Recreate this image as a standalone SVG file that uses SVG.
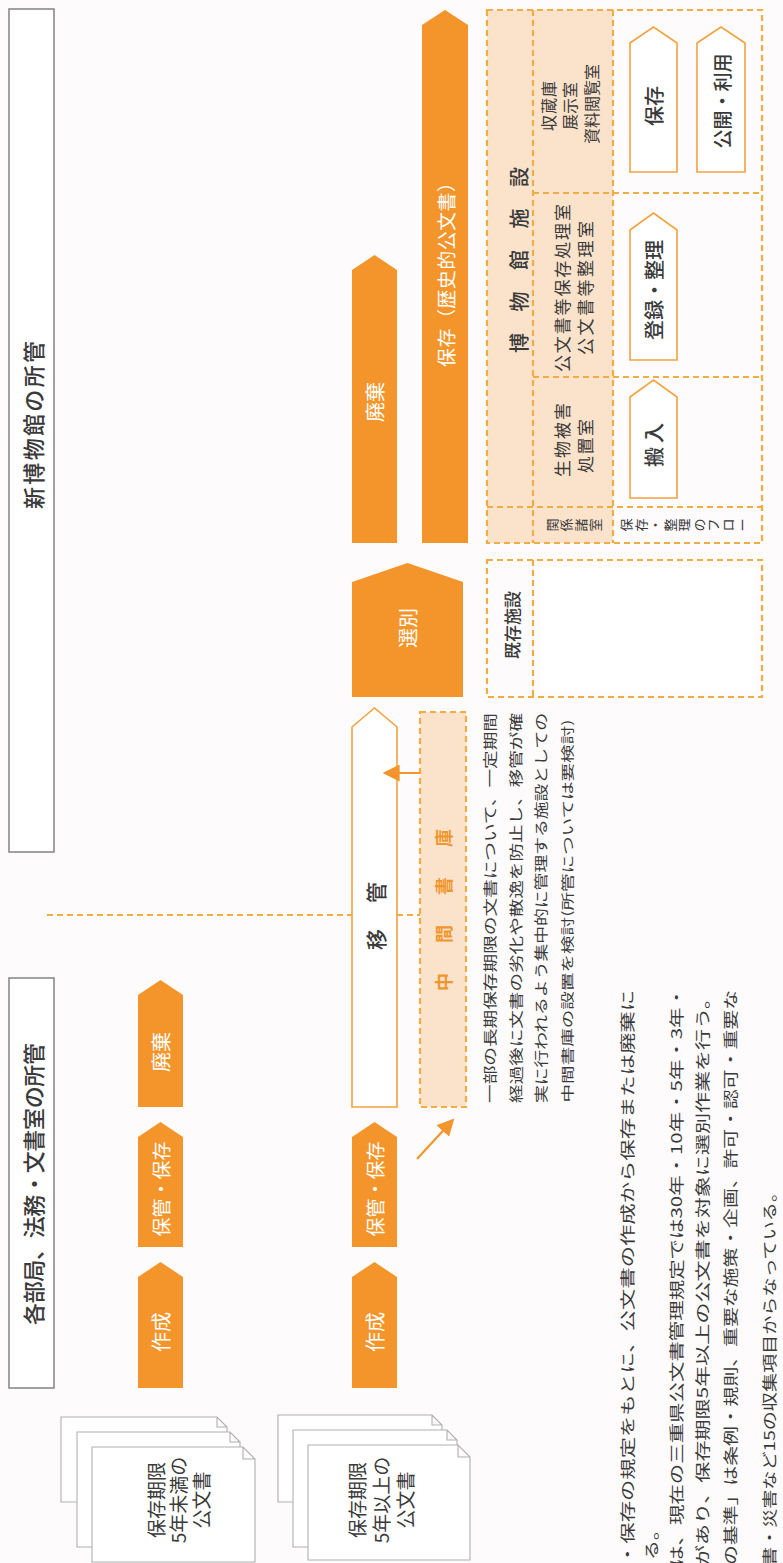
<svg xmlns="http://www.w3.org/2000/svg" width="783" height="1563" viewBox="0 0 783 1563">
<defs>
<style>
.t{font-family:"Noto Sans CJK JP","Noto Sans",sans-serif;text-anchor:middle;dominant-baseline:central}
.e{text-anchor:end}
.d{fill:#3a3a3a}
.w{fill:#ffffff}
.o{fill:#f3952a}
.og{fill:#f0962e}
.box{fill:#ffffff;stroke:#8a8a8a;stroke-width:1.6}
.dash{fill:none;stroke:#f1ac45;stroke-width:2.2;stroke-dasharray:6 4}
.peach{fill:#fbe3cb}
.wa{fill:#ffffff;stroke:#f3a240;stroke-width:1.6}
.page{fill:#ffffff;stroke:#b0b0b0;stroke-width:1.1}
.con{fill:none;stroke:#f3952a;stroke-width:2.2}
</style>
<marker id="ah" viewBox="0 0 10 10" refX="8" refY="5" markerUnits="userSpaceOnUse" markerWidth="17" markerHeight="17" orient="auto">
<path d="M0,0 L10,5 L0,10 Z" fill="#f3952a"/>
</marker>
</defs>
<rect x="0" y="0" width="783" height="1563" fill="#fdfbfb"/>

<g id="header-new-museum">
<rect class="box" x="9" y="9" width="45" height="843"/>
<text class="t d" font-size="22" font-weight="500" transform="translate(32,425) rotate(-90)" textLength="168">新博物館の所管</text>
</g>
<g id="header-departments">
<rect class="box" x="9" y="978" width="45" height="410"/>
<text class="t d" font-size="22" font-weight="500" transform="translate(32,1184) rotate(-90)" textLength="282">各部局、法務・文書室の所管</text>
</g>

<g id="divider">
<line class="dash" x1="47" y1="915" x2="420" y2="915"/>
</g>

<g id="doc-stack-under5">
<path class="page" d="M61,1417 H217 L227,1427 V1502 H61 Z M217,1417 V1427 H227"/>
<path class="page" d="M77,1432 H230 L240,1442 V1547 H77 Z M230,1432 V1442 H240"/>
<path class="page" d="M92,1447 H243 L255,1459 V1562 H92 Z M243,1447 V1459 H255"/>
<text class="t d" font-size="19" transform="translate(155,1500) rotate(-90)">保存期限</text>
<text class="t d" font-size="19" transform="translate(177,1500) rotate(-90)">5年未満の</text>
<text class="t d" font-size="19" transform="translate(200,1500) rotate(-90)">公文書</text>
</g>
<g id="doc-stack-over5">
<path class="page" d="M278,1415 H432 L442,1425 V1502 H278 Z M432,1415 V1425 H442"/>
<path class="page" d="M293,1430 H447 L457,1440 V1547 H293 Z M447,1430 V1440 H457"/>
<path class="page" d="M308,1445 H458 L470,1457 V1560 H308 Z M458,1445 V1457 H470"/>
<text class="t d" font-size="19" transform="translate(356,1500) rotate(-90)">保存期限</text>
<text class="t d" font-size="19" transform="translate(380,1500) rotate(-90)">5年以上の</text>
<text class="t d" font-size="19" transform="translate(404,1500) rotate(-90)">公文書</text>
</g>

<g id="a1-create">
<polygon class="o" points="138,1388 138,1277 160.5,1262 183,1277 183,1388"/>
<text class="t w" font-size="20" transform="translate(160.5,1332) rotate(-90)">作成</text>
</g>
<g id="a1-keep">
<polygon class="o" points="138,1247 138,1137 160.5,1122 183,1137 183,1247"/>
<text class="t w" font-size="19" transform="translate(160.5,1189) rotate(-90)">保管・保存</text>
</g>
<g id="a1-discard">
<polygon class="o" points="138,1107 138,995 160.5,980 183,995 183,1107"/>
<text class="t w" font-size="20" transform="translate(160.5,1052) rotate(-90)">廃棄</text>
</g>
<g id="a2-create">
<polygon class="o" points="352,1388 352,1277 374.5,1262 397,1277 397,1388"/>
<text class="t w" font-size="20" transform="translate(374.5,1332) rotate(-90)">作成</text>
</g>
<g id="a2-keep">
<polygon class="o" points="352,1247 352,1137 374.5,1122 397,1137 397,1247"/>
<text class="t w" font-size="19" transform="translate(374.5,1189) rotate(-90)">保管・保存</text>
</g>
<g id="a2-transfer">
<polygon class="wa" stroke-width="2" points="352,1107 352,727 374.5,708 397,727 397,1107"/>
<text class="t d" font-size="21" font-weight="500" transform="translate(374.5,916) rotate(-90)" textLength="68">移管</text>
</g>
<g id="intermediate-archive">
<rect class="peach" x="420" y="712" width="46" height="395"/>
<rect class="dash" x="420" y="712" width="46" height="395"/>
<text class="t og" font-size="18" font-weight="700" transform="translate(443,910) rotate(-90)" textLength="162">中間書庫</text>
</g>
<g id="a-select">
<polygon class="o" points="352,697 352,582 407.5,563 463,582 463,697"/>
<text class="t w" font-size="20" transform="translate(407.5,628) rotate(-90)">選別</text>
</g>
<g id="a-museum-discard">
<polygon class="o" points="352,543 352,270 374.5,255 397,270 397,543"/>
<text class="t w" font-size="20" transform="translate(374.5,402) rotate(-90)">廃棄</text>
</g>
<g id="a-museum-keep">
<polygon class="o" points="422,543 422,25 445,10 468,25 468,543"/>
<text class="t w" font-size="19" transform="translate(445,270) rotate(-90)" textLength="194">保存（歴史的公文書）</text>
</g>

<g id="note-intermediate">
<text class="t d" font-size="14" transform="translate(489,908) rotate(-90)" textLength="390" lengthAdjust="spacingAndGlyphs">一部の長期保存期限の文書について、一定期間</text>
<text class="t d" font-size="14" transform="translate(515,908) rotate(-90)" textLength="390" lengthAdjust="spacingAndGlyphs">経過後に文書の劣化や散逸を防止し、移管が確</text>
<text class="t d" font-size="14" transform="translate(540,908) rotate(-90)" textLength="390" lengthAdjust="spacingAndGlyphs">実に行われるよう集中的に管理する施設としての</text>
<text class="t d" font-size="13" transform="translate(566,911) rotate(-90)" textLength="383" lengthAdjust="spacingAndGlyphs">中間書庫の設置を検討(所管については要検討)</text>
</g>

<g id="museum-facility">
<rect class="peach" x="487" y="10" width="126" height="533"/>
<rect class="dash" x="487" y="10" width="275" height="533"/>
<line class="dash" x1="533" y1="10" x2="533" y2="543"/>
<line class="dash" x1="613" y1="10" x2="613" y2="543"/>
<line class="dash" x1="533" y1="193" x2="762" y2="193"/>
<line class="dash" x1="533" y1="377" x2="762" y2="377"/>
<line class="dash" x1="487" y1="507" x2="762" y2="507"/>
<text class="t d" font-size="20" font-weight="500" transform="translate(518,260) rotate(-90)" textLength="186">博物館施設</text>
<text class="t d" font-size="16" transform="translate(548,106) rotate(-90)" textLength="50">収蔵庫</text>
<text class="t d" font-size="16" transform="translate(569,106) rotate(-90)" textLength="48">展示室</text>
<text class="t d" font-size="16" transform="translate(591,104) rotate(-90)" textLength="80">資料閲覧室</text>
<text class="t d" font-size="17" transform="translate(561,288) rotate(-90)" textLength="168">公文書等保存処理室</text>
<text class="t d" font-size="17" transform="translate(584,288) rotate(-90)" textLength="134">公文書等整理室</text>
<text class="t d" font-size="17" transform="translate(561,440) rotate(-90)" textLength="74">生物被害</text>
<text class="t d" font-size="17" transform="translate(584,446) rotate(-90)" textLength="54">処置室</text>
<text class="t d" font-size="13" transform="translate(551,525) rotate(-90)"><tspan x="0" y="0">関</tspan><tspan x="0" y="14.3">係</tspan><tspan x="0" y="28.6">諸</tspan><tspan x="0" y="42.9">室</tspan></text>
<text class="t d" font-size="13" transform="translate(625,525) rotate(-90)"><tspan x="0" y="0">保</tspan><tspan x="0" y="14.5">存</tspan><tspan x="0" y="29">・</tspan><tspan x="0" y="43.5">整</tspan><tspan x="0" y="58">理</tspan><tspan x="0" y="72.5">の</tspan><tspan x="0" y="87">フ</tspan><tspan x="0" y="101.5">ロ</tspan><tspan x="0" y="116">ー</tspan></text>
</g>
<g id="f-keep">
<polygon class="wa" points="630,172 630,43 653.5,27 677,43 677,172"/>
<text class="t d" font-size="20" font-weight="500" transform="translate(653.5,106) rotate(-90)">保存</text>
</g>
<g id="f-open">
<polygon class="wa" points="697,172 697,43 721,27 745,43 745,172"/>
<text class="t d" font-size="19" font-weight="500" transform="translate(721,101) rotate(-90)">公開・利用</text>
</g>
<g id="f-register">
<polygon class="wa" points="630,360 630,230 653.5,213 677,230 677,360"/>
<text class="t d" font-size="20" font-weight="500" transform="translate(653.5,290) rotate(-90)">登録・整理</text>
</g>
<g id="f-carry">
<polygon class="wa" points="630,498 630,397 653.5,380 677,397 677,498"/>
<text class="t d" font-size="20" font-weight="500" transform="translate(653.5,445) rotate(-90)" textLength="44">搬入</text>
</g>

<g id="existing-facility">
<rect x="540" y="567" width="215" height="123" fill="#ffffff"/>
<rect class="dash" x="487" y="560" width="275" height="137"/>
<line class="dash" x1="533" y1="560" x2="533" y2="697"/>
<text class="t d" font-size="17" font-weight="500" transform="translate(511,625) rotate(-90)" textLength="68">既存施設</text>
</g>

<g id="connectors">
<line class="con" x1="420" y1="773" x2="386" y2="773" marker-end="url(#ah)"/>
<line class="con" x1="417" y1="1159" x2="452" y2="1121" marker-end="url(#ah)"/>
</g>

<g id="note-bottom">
<text class="t e d" font-size="15" transform="translate(626,990) rotate(-90)" textLength="575" lengthAdjust="spacingAndGlyphs">・保存の規定をもとに、公文書の作成から保存または廃棄に</text>
<text class="t e d" font-size="15" transform="translate(650,1520) rotate(-90)" textLength="40" lengthAdjust="spacingAndGlyphs">る。</text>
<text class="t e d" font-size="15" transform="translate(675,987) rotate(-90)" textLength="579" lengthAdjust="spacingAndGlyphs">は、現在の三重県公文書管理規定では30年・10年・5年・3年・</text>
<text class="t e d" font-size="15" transform="translate(701,988) rotate(-90)" textLength="578" lengthAdjust="spacingAndGlyphs">があり、保存期限5年以上の公文書を対象に選別作業を行う。</text>
<text class="t e d" font-size="15" transform="translate(729,990) rotate(-90)" textLength="575" lengthAdjust="spacingAndGlyphs">の基準」は条例・規則、重要な施策・企画、許可・認可・重要な</text>
<text class="t e d" font-size="15" transform="translate(768,1183) rotate(-90)" textLength="383" lengthAdjust="spacingAndGlyphs">書・災害など15の収集項目からなっている。</text>
</g>
</svg>
